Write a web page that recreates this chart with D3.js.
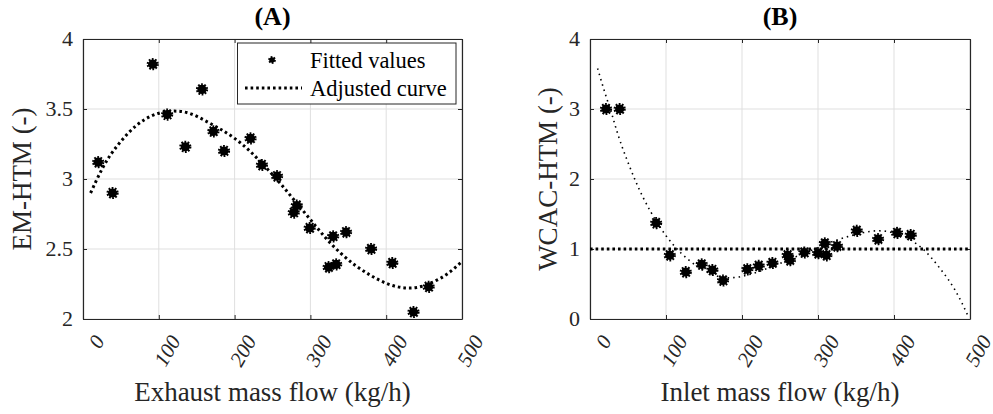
<!DOCTYPE html>
<html><head><meta charset="utf-8">
<script src="https://cdn.jsdelivr.net/npm/d3@7"></script>
<style>
body{margin:0;background:#fff;}
svg{display:block;}
</style></head>
<body><svg id="c" width="993" height="414"></svg>
<script>
// ---------- data ----------
const xTicks = [0, 100, 200, 300, 400, 500];
const aYTicks = [2, 2.5, 3, 3.5, 4];
const bYTicks = [0, 1, 2, 3, 4];

// Panel A: exhaust mass flow vs EM-HTM
const aX = [20, 39, 92, 111, 135, 157, 172, 186, 221, 236, 256, 282, 278, 299, 330, 347, 324, 334, 380, 408, 456, 436];
const aY = [3.12, 2.90, 3.82, 3.46, 3.23, 3.64, 3.34, 3.20, 3.29, 3.10, 3.02, 2.81, 2.76, 2.65, 2.59, 2.62, 2.37, 2.39, 2.50, 2.40, 2.23, 2.05];
const aCurveX = [10, 25, 40, 60, 80, 100, 120, 140, 160, 180, 200, 220, 240, 260, 280, 300, 320, 340, 360, 380, 400, 420, 440, 460, 480, 500];
const aCurveY = [2.90, 3.07, 3.20, 3.33, 3.42, 3.47, 3.485, 3.47, 3.42, 3.36, 3.29, 3.20, 3.09, 2.97, 2.84, 2.71, 2.58, 2.47, 2.38, 2.31, 2.255, 2.225, 2.225, 2.26, 2.32, 2.41];

// Panel B: inlet mass flow vs WCAC-HTM
const bX = [21, 39, 87, 105, 126, 147, 161, 175, 207, 222, 240, 260, 263, 282, 300, 309, 311, 325, 351, 379, 404, 422];
const bY = [3.0, 3.0, 1.37, 0.91, 0.67, 0.78, 0.70, 0.55, 0.71, 0.76, 0.80, 0.91, 0.84, 0.95, 0.94, 1.08, 0.91, 1.04, 1.26, 1.14, 1.23, 1.20];
const bCurveX = [10, 20, 30, 40, 60, 80, 100, 120, 140, 160, 180, 200, 220, 240, 260, 280, 300, 320, 340, 360, 380, 400, 420, 440, 460, 480, 498];
const bCurveY = [3.58, 3.22, 2.88, 2.53, 1.97, 1.53, 1.19, 0.94, 0.76, 0.64, 0.59, 0.61, 0.67, 0.75, 0.84, 0.93, 1.02, 1.11, 1.18, 1.235, 1.26, 1.23, 1.14, 0.98, 0.73, 0.42, 0.03];
const bRefX = [0, 500];
const bRefY = [1, 1];

const titles = ["(A)", "(B)"];
const xLabels = ["Exhaust mass flow (kg/h)", "Inlet mass flow (kg/h)"];
const yLabels = ["EM-HTM (-)", "WCAC-HTM (-)"];
const legendLabels = ["Fitted values", "Adjusted curve"];

// ---------- drawing ----------
const FONT = "Liberation Serif";
const svg = d3.select("#c").attr("font-family", FONT);
const axCol = "#262626";
const gridCol = "#dfdfdf";

function marker(g, x, y, r, sw) {
  g.append("circle").attr("cx", x).attr("cy", y).attr("r", r)
    .attr("fill", "#000").attr("stroke", "#000").attr("stroke-width", sw)
    .attr("stroke-dasharray", "1.6,1.3");
}

function panel(cfg) {
  const x = d3.scaleLinear().domain([0, 500]).range([cfg.left, cfg.right]);
  const y = d3.scaleLinear().domain(cfg.yDomain).range([319, 39]);
  const g = svg.append("g");

  g.selectAll(".gx").data(xTicks).enter().append("line")
    .attr("x1", d => x(d)).attr("x2", d => x(d)).attr("y1", 39).attr("y2", 319)
    .attr("stroke", gridCol).attr("stroke-width", 1);
  g.selectAll(".gy").data(cfg.yTicks).enter().append("line")
    .attr("x1", cfg.left).attr("x2", cfg.right).attr("y1", d => y(d)).attr("y2", d => y(d))
    .attr("stroke", gridCol).attr("stroke-width", 1);

  const tl = 4;
  const bottom = g.append("g").attr("transform", "translate(0,319)")
    .call(d3.axisBottom(x).tickValues(xTicks).tickSizeInner(-tl).tickSizeOuter(0).tickFormat(""));
  const top = g.append("g").attr("transform", "translate(0,39)")
    .call(d3.axisTop(x).tickValues(xTicks).tickSizeInner(-tl).tickSizeOuter(0).tickFormat(""));
  const left = g.append("g").attr("transform", `translate(${cfg.left},0)`)
    .call(d3.axisLeft(y).tickValues(cfg.yTicks).tickSizeInner(-tl).tickSizeOuter(0).tickFormat(""));
  const right = g.append("g").attr("transform", `translate(${cfg.right},0)`)
    .call(d3.axisRight(y).tickValues(cfg.yTicks).tickSizeInner(-tl).tickSizeOuter(0).tickFormat(""));
  [bottom, top, left, right].forEach(a => {
    a.selectAll("path").attr("stroke", axCol).attr("stroke-width", 1.2);
    a.selectAll("line").attr("stroke", axCol).attr("stroke-width", 1);
  });

  g.selectAll(".xt").data(xTicks).enter().append("text")
    .attr("transform", d => `translate(${x(d) + 16},${337}) rotate(-60)`)
    .attr("text-anchor", "end").attr("dy", "0.35em")
    .attr("font-family", FONT).attr("font-size", 21).attr("fill", axCol).attr("font-style", "italic")
    .text(d => d);
  g.selectAll(".yt").data(cfg.yTicks).enter().append("text")
    .attr("x", cfg.left - 10).attr("y", d => y(d)).attr("dy", "0.33em")
    .attr("text-anchor", "end").attr("font-family", FONT).attr("font-size", 22).attr("fill", axCol)
    .text(d => d);

  g.append("text").attr("x", (cfg.left + cfg.right) / 2).attr("y", 401)
    .attr("text-anchor", "middle").attr("font-family", FONT).attr("font-size", 27).attr("fill", axCol).text(cfg.xLabel);
  g.append("text").attr("transform", `translate(${cfg.yLabelX},179) rotate(-90)`)
    .attr("text-anchor", "middle").attr("dy", "0.35em").attr("font-family", FONT).attr("font-size", 27).attr("fill", axCol).text(cfg.yLabel);
  g.append("text").attr("x", (cfg.left + cfg.right) / 2).attr("y", 25)
    .attr("text-anchor", "middle").attr("font-family", FONT).attr("font-size", 26).attr("font-weight", "bold").attr("fill", "#000").text(cfg.title);

  return { g, x, y };
}

// Panel A
const A = panel({ left: 83, right: 462, yDomain: [2, 4], yTicks: aYTicks, xLabel: xLabels[0], yLabel: yLabels[0], yLabelX: 22, title: titles[0] });
const lineA = d3.line().x(d => A.x(d[0])).y(d => A.y(d[1])).curve(d3.curveNatural);
A.g.append("path").datum(d3.zip(aCurveX, aCurveY)).attr("d", lineA)
  .attr("fill", "none").attr("stroke", "#000").attr("stroke-width", 3).attr("stroke-dasharray", "2.6,3");
d3.zip(aX, aY).forEach(d => marker(A.g, A.x(d[0]), A.y(d[1]), 4.6, 3));

// legend A
const lg = A.g.append("g");
lg.append("rect").attr("x", 237.5).attr("y", 43).attr("width", 218.5).attr("height", 61)
  .attr("fill", "#fff").attr("stroke", axCol).attr("stroke-width", 1);
marker(lg, 272, 60, 2.8, 2.2);
lg.append("line").attr("x1", 245).attr("x2", 302).attr("y1", 88).attr("y2", 88)
  .attr("stroke", "#000").attr("stroke-width", 3).attr("stroke-dasharray", "2.6,3");
lg.append("text").attr("x", 310).attr("y", 68).attr("font-family", FONT).attr("font-size", 22.5).attr("fill", "#000").text(legendLabels[0]);
lg.append("text").attr("x", 310).attr("y", 96).attr("font-family", FONT).attr("font-size", 22.5).attr("fill", "#000").text(legendLabels[1]);

// Panel B
const B = panel({ left: 590, right: 970, yDomain: [0, 4], yTicks: bYTicks, xLabel: xLabels[1], yLabel: yLabels[1], yLabelX: 548, title: titles[1] });
const lineB = d3.line().x(d => B.x(d[0])).y(d => B.y(d[1]));
B.g.append("path").datum(d3.zip(bRefX, bRefY)).attr("d", lineB)
  .attr("fill", "none").attr("stroke", "#000").attr("stroke-width", 3).attr("stroke-dasharray", "2.6,3");
B.g.append("path").datum(d3.zip(bCurveX, bCurveY)).attr("d", lineB.curve(d3.curveNatural))
  .attr("fill", "none").attr("stroke", "#000").attr("stroke-width", 1.6).attr("stroke-dasharray", "1.5,4");
d3.zip(bX, bY).forEach(d => marker(B.g, B.x(d[0]), B.y(d[1]), 4.6, 3));
</script></body></html>
